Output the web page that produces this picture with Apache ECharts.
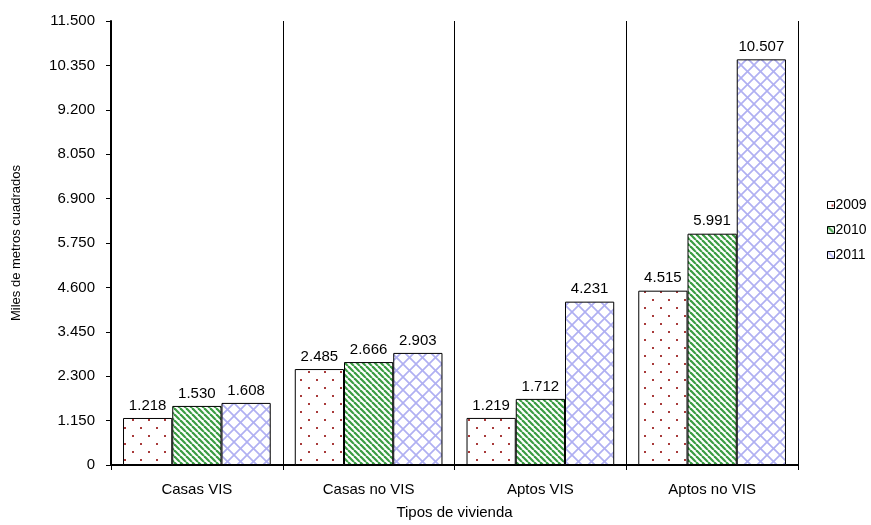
<!DOCTYPE html>
<html><head><meta charset="utf-8">
<script src="https://cdn.jsdelivr.net/npm/echarts@6/dist/echarts.min.js"></script>
<style>html,body{margin:0;padding:0;background:#fff}#c{width:871px;height:525px}</style>
</head><body><div id="c"></div>
<script>
var categories = ['Casas VIS', 'Casas no VIS', 'Aptos VIS', 'Aptos no VIS'];
var seriesNames = ['2009', '2010', '2011'];
var v2009 = [1218, 2485, 1219, 4515];
var v2010 = [1530, 2666, 1712, 5991];
var v2011 = [1608, 2903, 4231, 10507];
var yMax = 11500, yInterval = 1150;

function fmt(v){ return String(v).replace(/\B(?=(\d{3})+(?!\d))/g, '.'); }

function dots(){
  var c=document.createElement('canvas'); c.width=16; c.height=16;
  var x=c.getContext('2d'); x.fillStyle='#fff'; x.fillRect(0,0,16,16);
  x.fillStyle='#a83a3a';
  x.fillRect(4,3,2,2); x.fillRect(12,11,2,2);
  return c;
}
function stripes(){
  var s=6; var c=document.createElement('canvas'); c.width=s; c.height=s;
  var x=c.getContext('2d'); x.fillStyle='#fff'; x.fillRect(0,0,s,s);
  x.strokeStyle='#3a9c42'; x.lineWidth=2.2;
  for(var k=-1;k<=1;k++){ x.beginPath(); x.moveTo(k*s,0); x.lineTo(k*s+s,s); x.stroke(); }
  return c;
}
function hatch(){
  var s=13; var c=document.createElement('canvas'); c.width=s; c.height=s;
  var x=c.getContext('2d'); x.fillStyle='#fff'; x.fillRect(0,0,s,s);
  x.strokeStyle='#b0b0f2'; x.lineWidth=1.7;
  for(var k=-1;k<=1;k++){
    x.beginPath(); x.moveTo(k*s,0); x.lineTo(k*s+s,s); x.stroke();
    x.beginPath(); x.moveTo(k*s+s,0); x.lineTo(k*s,s); x.stroke();
  }
  return c;
}
var fills=[dots(),stripes(),hatch()];
var data=[v2009,v2010,v2011];

var chart=echarts.init(document.getElementById('c'),null,{renderer:'canvas'});
chart.setOption({
  animation:false,
  textStyle:{fontFamily:'Liberation Sans, Arial, sans-serif'},
  grid:{left:111,right:73,top:21,bottom:56},
  legend:{
    orient:'vertical', left:822, top:193, itemGap:11,
    itemWidth:7, itemHeight:7, icon:'rect', padding:[5,0,5,5],
    itemStyle:{borderColor:'#000',borderWidth:1},
    textStyle:{fontSize:14,color:'#000',padding:[0,0,0,-4]},
    data:seriesNames
  },
  xAxis:{
    type:'category', data:categories,
    axisLine:{lineStyle:{color:'#000',width:2}},
    axisTick:{show:true,length:5,lineStyle:{color:'#000'}},
    axisLabel:{color:'#000',fontSize:15,margin:17},
    splitLine:{show:true,lineStyle:{color:'#000',width:1}},
    name:'Tipos de vivienda', nameLocation:'middle', nameGap:40,
    nameTextStyle:{color:'#000',fontSize:15}
  },
  yAxis:{
    type:'value', min:0, max:yMax, interval:yInterval,
    axisLine:{show:true,lineStyle:{color:'#000',width:2}},
    axisTick:{show:true,length:5,lineStyle:{color:'#000'}},
    axisLabel:{color:'#000',fontSize:15,margin:16,formatter:function(v){return fmt(v);}},
    splitLine:{show:false},
    name:'Miles de metros cuadrados', nameLocation:'middle', nameGap:88,
    nameTextStyle:{color:'#000',fontSize:13}
  },
  series:seriesNames.map(function(n,i){
    return {
      name:n, type:'bar', data:data[i], barGap:'0%', barCategoryGap:'14%',
      itemStyle:{color:{image:fills[i],repeat:'repeat'},borderColor:'#000',borderWidth:1},
      label:{show:true,position:'top',distance:5,color:'#000',fontSize:15,formatter:function(p){return fmt(p.value);}}
    };
  })
});
</script></body></html>
